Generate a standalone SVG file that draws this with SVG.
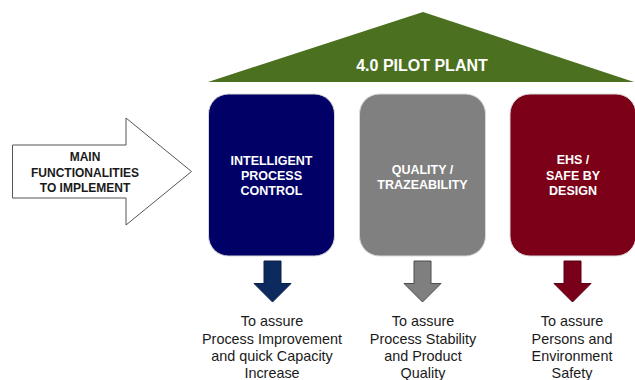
<svg xmlns="http://www.w3.org/2000/svg" width="635" height="380" viewBox="0 0 635 380">
<style>
.b{font-family:"Liberation Sans",Arial,sans-serif;font-weight:bold;text-anchor:middle}
.w{fill:#ffffff}
.k{fill:#1a1a1a}
.r{font-family:"Liberation Sans",Arial,sans-serif;font-size:14.4px;text-anchor:middle;fill:#1a1a1a}
.box{stroke:#d8d8d8;stroke-width:1}
.da{stroke-width:1;stroke-linejoin:miter}
</style>
<rect width="635" height="380" fill="#ffffff"/>
<g id="roof">
<polygon points="208,82 423,12 634,82" fill="#4a7020"/>
<text class="b w" x="422" y="71" font-size="16">4.0 PILOT PLANT</text>
</g>
<g id="main">
<polygon points="12.5,145 126,145 126,118 191.5,171.5 126,225 126,198 12.5,198" fill="#ffffff" stroke="#555555" stroke-width="1"/>
<text class="b k" font-size="12" x="85" y="161">MAIN</text>
<text class="b k" font-size="12" x="85" y="176.5">FUNCTIONALITIES</text>
<text class="b k" font-size="12" x="85" y="192">TO IMPLEMENT</text>
</g>
<g id="ipc">
<rect class="box" x="208.5" y="94" width="126" height="162" rx="20" fill="#000066"/>
<text class="b w" font-size="12.5" x="271.5" y="165">INTELLIGENT</text>
<text class="b w" font-size="12.5" x="271.5" y="180">PROCESS</text>
<text class="b w" font-size="12.5" x="271.5" y="195">CONTROL</text>
</g>
<g id="quality">
<rect class="box" x="359.5" y="94" width="126" height="162" rx="20" fill="#808080"/>
<text class="b w" font-size="12.5" x="422.5" y="173.5">QUALITY /</text>
<text class="b w" font-size="12.5" x="422.5" y="188.5">TRAZEABILITY</text>
</g>
<g id="ehs">
<rect class="box" x="510" y="94" width="126" height="162" rx="20" fill="#7d0019"/>
<text class="b w" font-size="12.5" x="573" y="164">EHS /</text>
<text class="b w" font-size="12.5" x="573" y="179.5">SAFE BY</text>
<text class="b w" font-size="12.5" x="573" y="194.5">DESIGN</text>
</g>
<g id="connectors">
<polygon class="da" points="264,261 281,261 281,283.5 291,283.5 272.5,302 254,283.5 264,283.5" fill="#0c2a5e" stroke="#0a1f48"/>
<polygon class="da" points="414,261 431,261 431,283.5 441,283.5 422.5,302 404,283.5 414,283.5" fill="#7f7f7f" stroke="#4d4d4d"/>
<polygon class="da" points="564,261 581,261 581,283.5 591,283.5 572.5,302 554,283.5 564,283.5" fill="#7a0019" stroke="#5a0012"/>
</g>
<g id="t1">
<text class="r" x="272" y="326">To assure</text>
<text class="r" x="272" y="343.5">Process Improvement</text>
<text class="r" x="272" y="361">and quick Capacity</text>
<text class="r" x="272" y="378">Increase</text>
</g>
<g id="t2">
<text class="r" x="423" y="326">To assure</text>
<text class="r" x="423" y="343.5">Process Stability</text>
<text class="r" x="423" y="361">and Product</text>
<text class="r" x="423" y="378">Quality</text>
</g>
<g id="t3">
<text class="r" x="572" y="326">To assure</text>
<text class="r" x="572" y="343.5">Persons and</text>
<text class="r" x="572" y="361">Environment</text>
<text class="r" x="572" y="378">Safety</text>
</g>
</svg>
